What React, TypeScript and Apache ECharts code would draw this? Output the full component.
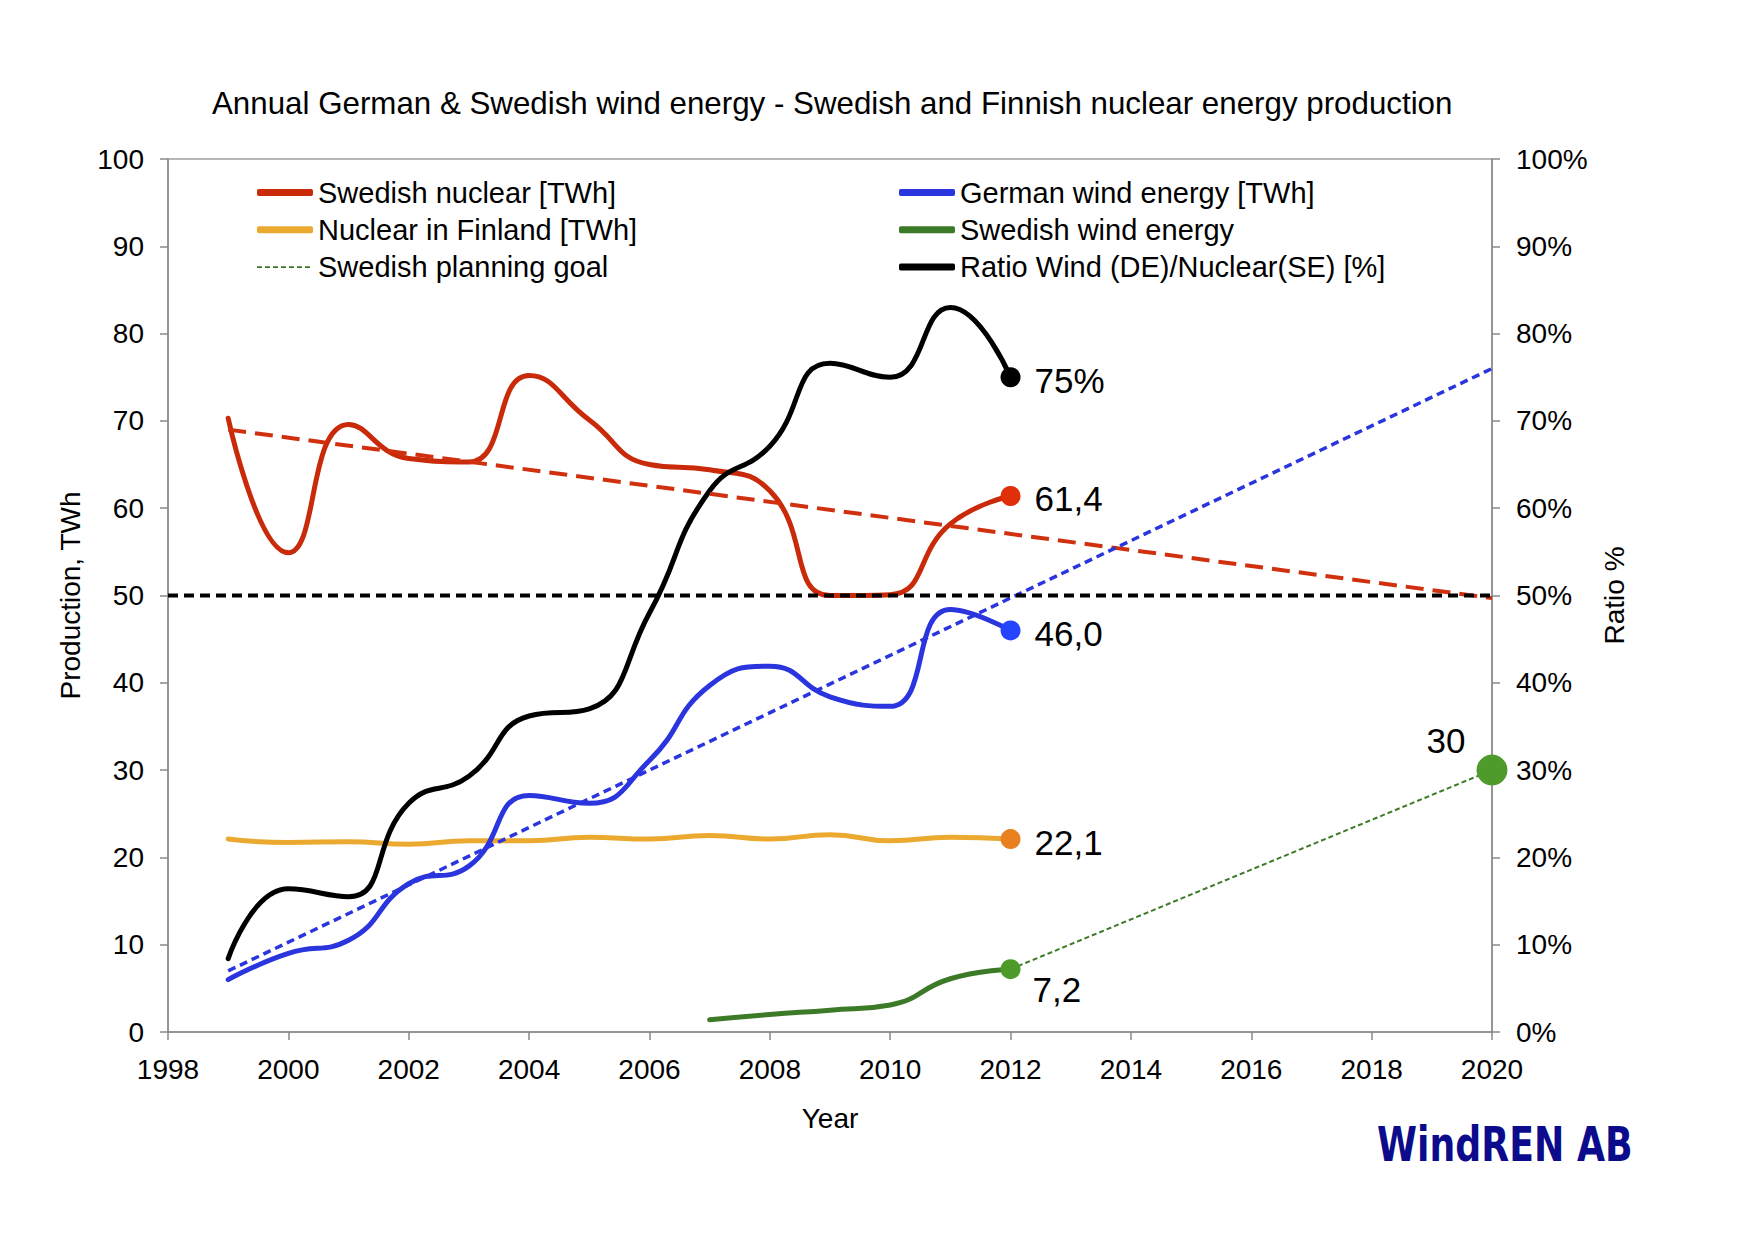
import React, { useEffect, useRef } from "react";
import * as echarts from "echarts";

// ---------- data ----------
const years = [1999, 2000, 2001, 2002, 2003, 2004, 2005, 2006, 2007, 2008, 2009, 2010, 2011, 2012];
const swedishNuclear = [70.3, 54.9, 69.6, 65.7, 65.3, 75.2, 70.1, 65.0, 64.4, 62.0, 50.0, 50.1, 58.2, 61.4];
const finnishNuclear = [22.1, 21.7, 21.8, 21.5, 21.9, 21.9, 22.3, 22.1, 22.5, 22.1, 22.6, 21.9, 22.3, 22.1];
const germanWind = [6.0, 9.0, 10.5, 17.0, 19.0, 27.1, 26.2, 31.1, 39.7, 41.9, 38.4, 37.3, 48.4, 46.0];
const ratioWindNuclear = [8.4, 16.4, 15.5, 26.2, 29.3, 36.2, 37.0, 48.0, 62.0, 67.1, 76.6, 75.0, 83.0, 75.0];
const swedishWindYears = [2007, 2008, 2009, 2010, 2011, 2012];
const swedishWind = [1.4, 2.0, 2.5, 3.1, 6.1, 7.2];
const planningGoalYears = [2012, 2020];
const planningGoal = [7.2, 30];
const trendYears = [1999, 2020];
const nuclearTrend = [69.0, 49.7];
const windTrend = [7.0, 76.0];
const halfLineYears = [1998, 2020];
const halfLine = [50, 50];

const seriesNames = [
  "Swedish nuclear [TWh]",
  "Nuclear in Finland [TWh]",
  "Swedish planning goal",
  "German wind energy [TWh]",
  "Swedish wind energy",
  "Ratio Wind (DE)/Nuclear(SE) [%]",
];

const titleText = "Annual German & Swedish wind energy - Swedish and Finnish nuclear energy production";

// ---------- styling ----------
const FONT = "'Liberation Sans', Arial, Helvetica, sans-serif";
const C = {
  red: "#C92A0A",
  redDot: "#E0300A",
  orange: "#EBA930",
  orangeDot: "#E8801F",
  blue: "#2A35DD",
  blueDot: "#2444FF",
  green: "#3C7A28",
  greenDot: "#4E9A2A",
  black: "#000000",
  axis: "#8a8a8a",
};

const comma = (v: number) => v.toFixed(1).replace(".", ",");

function pts(xs: number[], ys: number[], end?: any) {
  return xs.map((x, i) => {
    const v = [x, ys[i]];
    if (end && i === xs.length - 1) {
      return {
        value: v,
        symbol: "circle",
        symbolSize: end.size,
        itemStyle: { color: end.color },
        label: {
          show: true,
          formatter: end.text,
          fontSize: 35,
          fontFamily: FONT,
          color: "#000",
          position: end.position || "right",
          distance: end.distance ?? 14,
          offset: end.offset || [0, 3],
        },
      };
    }
    return v;
  });
}

function mainLine(name: string, xs: number[], ys: number[], color: string, end: any, yAxisIndex = 0) {
  return {
    name,
    type: "line",
    yAxisIndex,
    smooth: 0.5,
    symbol: "none",
    color,
    itemStyle: { color },
    lineStyle: { color, width: 5, cap: "round", join: "round" },
    data: pts(xs, ys, end),
    z: 3,
  };
}

function dashLine(name: string | undefined, xs: number[], ys: number[], color: string, width: number, dash: number[], end?: any, z = 4) {
  return {
    name,
    type: "line",
    symbol: "none",
    color,
    itemStyle: { color },
    lineStyle: { color, width, type: dash, cap: "butt" },
    data: pts(xs, ys, end),
    z,
    silent: true,
  };
}

// dashed legend icon (thin dashes in a 56x7 box)
function dashedIcon() {
  let d = "path://M0,0h0.01v0.01h-0.01z M55.99,6.99h0.01v0.01h-0.01z";
  for (let i = 0; i < 7; i++) {
    const x = i * 8;
    d += ` M${x},2.6h5v1.8h-5z`;
  }
  return d;
}

const legendText = { fontSize: 29, fontFamily: FONT, color: "#000", lineHeight: 35 };

export default function App() {
  const ref = useRef<HTMLDivElement>(null);

  useEffect(() => {
    if (!ref.current) return;
    const chart = echarts.init(ref.current, undefined, { renderer: "svg" });

    const option: any = {
      animation: false,
      backgroundColor: "#ffffff",
      textStyle: { fontFamily: FONT },
      title: {
        text: titleText,
        left: 212,
        top: 88,
        padding: 0,
        textStyle: { fontSize: 31.3, fontWeight: "normal", fontFamily: FONT, color: "#000" },
      },
      grid: {
        left: 168,
        right: 263,
        top: 159,
        bottom: 208,
        show: true,
        borderColor: "#a0a0a0",
        borderWidth: 1.5,
        backgroundColor: "transparent",
      },
      legend: [
        {
          orient: "vertical",
          left: 257,
          top: 175,
          padding: 0,
          itemWidth: 56,
          itemHeight: 7,
          itemGap: 2.3,
          selectedMode: false,
          textStyle: legendText,
          data: [
            { name: seriesNames[0], icon: "roundRect" },
            { name: seriesNames[1], icon: "roundRect" },
            { name: seriesNames[2], icon: dashedIcon() },
          ],
        },
        {
          orient: "vertical",
          left: 899,
          top: 175,
          padding: 0,
          itemWidth: 56,
          itemHeight: 7,
          itemGap: 2.3,
          selectedMode: false,
          textStyle: legendText,
          data: [
            { name: seriesNames[3], icon: "roundRect" },
            { name: seriesNames[4], icon: "roundRect" },
            { name: seriesNames[5], icon: "roundRect" },
          ],
        },
      ],
      xAxis: {
        type: "value",
        min: 1998,
        max: 2020,
        interval: 2,
        name: "Year",
        nameLocation: "middle",
        nameGap: 72,
        nameTextStyle: { fontSize: 28, fontFamily: FONT, color: "#000" },
        axisLine: { show: true, onZero: false, lineStyle: { color: C.axis, width: 1.5 } },
        axisTick: { show: true, length: 8, lineStyle: { color: C.axis, width: 1.5 } },
        axisLabel: { fontSize: 28, fontFamily: FONT, color: "#000", margin: 23, formatter: (v: number) => String(v) },
        splitLine: { show: false },
      },
      yAxis: [
        {
          type: "value",
          min: 0,
          max: 100,
          interval: 10,
          position: "left",
          name: "Production, TWh",
          nameLocation: "middle",
          nameRotate: 90,
          nameGap: 84,
          nameTextStyle: { fontSize: 28, fontFamily: FONT, color: "#000" },
          axisLine: { show: true, lineStyle: { color: C.axis, width: 1.5 } },
          axisTick: { show: true, length: 8, lineStyle: { color: C.axis, width: 1.5 } },
          axisLabel: { fontSize: 28, fontFamily: FONT, color: "#000", margin: 24 },
          splitLine: { show: false },
        },
        {
          type: "value",
          min: 0,
          max: 100,
          interval: 10,
          position: "right",
          name: "Ratio %",
          nameLocation: "middle",
          nameRotate: 90,
          nameGap: 108,
          nameTextStyle: { fontSize: 28, fontFamily: FONT, color: "#000" },
          axisLine: { show: true, lineStyle: { color: C.axis, width: 1.5 } },
          axisTick: { show: true, length: 8, lineStyle: { color: C.axis, width: 1.5 } },
          axisLabel: { fontSize: 28, fontFamily: FONT, color: "#000", margin: 24, formatter: "{value}%" },
          splitLine: { show: false },
        },
      ],
      series: [
        mainLine(seriesNames[1], years, finnishNuclear, C.orange, { size: 20, color: C.orangeDot, text: comma(finnishNuclear[finnishNuclear.length - 1]) }),
        mainLine(seriesNames[0], years, swedishNuclear, C.red, { size: 20, color: C.redDot, text: comma(swedishNuclear[swedishNuclear.length - 1]) }),
        mainLine(seriesNames[3], years, germanWind, C.blue, { size: 20, color: C.blueDot, text: comma(germanWind[germanWind.length - 1]) }),
        mainLine(seriesNames[5], years, ratioWindNuclear, C.black, { size: 20, color: C.black, text: `${ratioWindNuclear[ratioWindNuclear.length - 1]}%` }, 1),
        dashLine(seriesNames[2], planningGoalYears, planningGoal, C.green, 2, [5, 3], {
          size: 31,
          color: C.greenDot,
          text: String(planningGoal[planningGoal.length - 1]),
          position: "left",
          distance: 11,
          offset: [0, -30],
        }, 2),
        mainLine(seriesNames[4], swedishWindYears, swedishWind, C.green, {
          size: 20,
          color: C.greenDot,
          text: comma(swedishWind[swedishWind.length - 1]),
          distance: 12,
          offset: [0, 20],
        }),
        dashLine(undefined, trendYears, nuclearTrend, "#D0300E", 4, [18, 9]),
        dashLine(undefined, trendYears, windTrend, "#2A35DD", 3.5, [8, 5]),
        dashLine(undefined, halfLineYears, halfLine, "#000000", 4, [10, 6]),
      ],
      graphic: [
        {
          type: "text",
          x: 1377,
          y: 1120,
          scaleX: 0.84,
          style: {
            text: "WindREN AB",
            font: "bold 48px 'Liberation Sans Narrow', 'DejaVu Sans Condensed', Arial, sans-serif",
            fill: "#0B0B8C",
            align: "left",
            verticalAlign: "top",
          },
        },
      ],
    };

    chart.setOption(option);
    return () => chart.dispose();
  }, []);

  return (
    <div
      ref={ref}
      style={{ position: "fixed", left: 0, top: 0, width: 1755, height: 1240, background: "#fff" }}
    />
  );
}
